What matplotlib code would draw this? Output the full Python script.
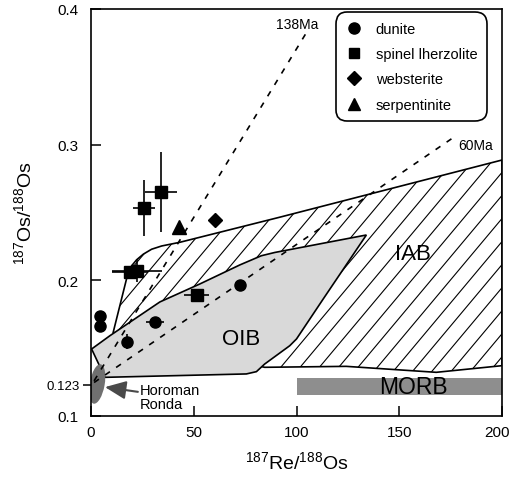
import numpy as np
import matplotlib
matplotlib.use("Agg")
import matplotlib.pyplot as plt
from matplotlib.patches import Polygon, Rectangle, Ellipse
from matplotlib.collections import LineCollection
from matplotlib.lines import Line2D
from matplotlib.transforms import ScaledTranslation

plt.rcParams['font.family'] = ['Liberation Sans', 'DejaVu Sans']
plt.rcParams['mathtext.fontset'] = 'custom'
plt.rcParams['mathtext.rm'] = 'Liberation Sans'
plt.rcParams['mathtext.it'] = 'Liberation Sans:italic'

# ---------------- data ----------------
dunite_x = [4.4, 4.4, 17.4, 31.1, 72.7]
dunite_y = [0.1733, 0.1660, 0.1546, 0.1689, 0.1966]
dunite_xerr = [0, 0, 0, 4.4, 0]
dunite_yerr = [0.003, 0.003, 0.0055, 0, 0]

lherz_x = [25.9, 34.0, 19.0, 22.5, 51.4]
lherz_y = [0.2532, 0.2652, 0.2058, 0.2070, 0.1893]
lherz_xerr = [5.4, 7.7, 8.6, 12.2, 6.2]
lherz_yerr = [0.021, 0.0295, 0, 0.0086, 0]

webst_x = [60.3]
webst_y = [0.2444]
serp_x = [42.8]
serp_y = [0.2390]

# IAB field outline (Re/Os, Os/Os)
iab_x = [10.8, 18.1, 20.0, 22.2, 25.5, 29.5, 34.4, 43.2, 91.8, 200, 200, 168, 124.2, 84.5]
iab_y = [0.1615, 0.2058, 0.2110, 0.2150, 0.2192, 0.2228, 0.2252, 0.2279, 0.2464,
         0.2886, 0.1369, 0.1320, 0.1364, 0.1357]

# OIB field outline
oib_x = [0.3, 9.2, 33.5, 53.0, 72.4, 82.9, 89.4, 134.0, 113.0, 100.0, 96.7, 84.5, 80.5, 75.6, 6.8]
oib_y = [0.1492, 0.1590, 0.1839, 0.1972, 0.2112, 0.2180, 0.2204, 0.2333, 0.1861, 0.1566,
         0.1516, 0.1381, 0.1325, 0.1308, 0.1283]

# MORB range
morb_x = [100, 200]
morb_y = [0.1153, 0.1276]

# Horoman / Ronda
horoman_xy = (3.0, 0.1234)

# Reference isochrons
iso_labels = ['138Ma', '60Ma']
iso_x = [[1.5, 105.4], [1.5, 177.7]]
iso_y = [[0.1257, 0.3840], [0.1245, 0.3066]]
iso_label_xy = [(100.5, 0.3889), (187.0, 0.2997)]

x_ticks = [0, 50, 100, 150, 200]
y_ticks = [0.1, 0.2, 0.3, 0.4]
y_ticklabels = ['0.1', '0.2', '0.3', '0.4']

# ---------------- figure ----------------
fig = plt.figure(figsize=(5.1, 4.85), dpi=100)
ax = fig.add_axes([91 / 510, (485 - 416.7) / 485, 411 / 510, 406.7 / 485])
ax.set_xlim(0, 200)
ax.set_ylim(0.1, 0.4)

# IAB field with hatching
iab_poly = Polygon(np.column_stack([iab_x, iab_y]), closed=True, facecolor='white',
                   edgecolor='none', zorder=1)
ax.add_patch(iab_poly)
slope = np.tan(np.deg2rad(50)) * (2.058 / 1355.6)
offsets = np.arange(-200, 260, 9.4)
segs = [[(c, 0.1), (c + 0.3 / slope, 0.4)] for c in offsets]
hatch = LineCollection(segs, colors='black', linewidths=0.8, zorder=1.1)
ax.add_collection(hatch)
hatch.set_clip_path(iab_poly)
ax.add_patch(Polygon(np.column_stack([iab_x, iab_y]), closed=True, facecolor='none',
                     edgecolor='black', linewidth=1.2, zorder=1.2))

# OIB field
ax.add_patch(Polygon(np.column_stack([oib_x, oib_y]), closed=True, facecolor='#d9d9d9',
                     edgecolor='black', linewidth=1.2, zorder=2))

# MORB bar
ax.add_patch(Rectangle((morb_x[0], morb_y[0]), morb_x[1] - morb_x[0], morb_y[1] - morb_y[0],
                       facecolor='#8e8e8e', edgecolor='none', zorder=2))

# Horoman / Ronda blob
blob_tr = fig.dpi_scale_trans + ScaledTranslation(horoman_xy[0], horoman_xy[1], ax.transData)
ax.add_patch(Ellipse((0, 0), 0.15, 0.40, angle=-10, transform=blob_tr,
                     facecolor='#707070', edgecolor='none', zorder=2.5))

# Isochrons
for xs, ys, lab, (lx, ly) in zip(iso_x, iso_y, iso_labels, iso_label_xy):
    ax.plot(xs, ys, color='black', lw=1.2, linestyle=(0, (3.5, 4.5)), zorder=3)
    ax.text(lx, ly, lab, fontsize=10, ha='center', va='center', zorder=5)

# Data
eb = dict(fmt='none', ecolor='black', elinewidth=1.2, capsize=0, zorder=4)
ax.errorbar(dunite_x, dunite_y, xerr=dunite_xerr, yerr=dunite_yerr, **eb)
ax.errorbar(lherz_x, lherz_y, xerr=lherz_xerr, yerr=lherz_yerr, **eb)
ax.plot(dunite_x, dunite_y, 'o', color='black', ms=8, zorder=5, linestyle='none')
ax.plot(lherz_x, lherz_y, 's', color='black', ms=8, zorder=5, linestyle='none')
ax.plot(webst_x, webst_y, 'D', color='black', ms=7.5, zorder=5, linestyle='none')
ax.plot(serp_x, serp_y, '^', color='black', ms=10, zorder=5, linestyle='none')

# Field labels
ax.text(156.6, 0.2193, 'IAB', fontsize=16, ha='center', va='center', zorder=5)
ax.text(73.0, 0.1571, 'OIB', fontsize=16, ha='center', va='center', zorder=5)
ax.text(156.8, 0.1214, 'MORB', fontsize=16.5, ha='center', va='center', zorder=5)
ax.annotate('', xy=(6.8, 0.1211), xytext=(22.8, 0.1176),
            arrowprops=dict(arrowstyle='-|>,head_length=0.8,head_width=0.35',
                            mutation_scale=16, color='#4a4a4a', lw=1.5,
                            shrinkA=0, shrinkB=0), zorder=5)
ax.text(23.8, 0.1138, 'Horoman\nRonda', fontsize=10.5, ha='left', va='center',
        linespacing=0.95, zorder=5)

# Legend
handles = [Line2D([], [], marker='o', color='black', ms=8, linestyle='none'),
           Line2D([], [], marker='s', color='black', ms=7.5, linestyle='none'),
           Line2D([], [], marker='D', color='black', ms=7.5, linestyle='none'),
           Line2D([], [], marker='^', color='black', ms=9, linestyle='none')]
leg = ax.legend(handles, ['dunite', 'spinel lherzolite', 'websterite', 'serpentinite'],
                loc='upper right', bbox_to_anchor=(0.963, 0.992), borderaxespad=0,
                fontsize=10.5, labelspacing=0.78, handletextpad=0.9, handlelength=1.2,
                borderpad=0.65, fancybox=True, framealpha=1, edgecolor='black')
leg.get_frame().set_linewidth(1.2)
leg.get_frame().set_boxstyle('round,pad=0,rounding_size=0.8')
leg.set_zorder(6)

# Axes styling
for sp in ax.spines.values():
    sp.set_linewidth(1.2)
ax.set_xticks(x_ticks)
ax.set_xticklabels([str(t) for t in x_ticks])
ax.set_yticks(y_ticks)
ax.set_yticklabels(y_ticklabels)
ax.tick_params(axis='both', which='major', direction='in', length=7, width=1.1,
               labelsize=11)
ax.tick_params(axis='x', which='major', pad=7)
ax.tick_params(axis='y', which='major', pad=9)
ax.set_yticks([0.123], minor=True)
ax.set_yticklabels(['0.123'], minor=True)
ax.tick_params(axis='y', which='minor', direction='inout', length=12, width=1.1,
               labelsize=9.5, pad=2)
ax.set_xlabel(r'$^{\mathrm{187}}$Re/$^{\mathrm{188}}$Os', fontsize=14, labelpad=8)
ax.set_ylabel(r'$^{\mathrm{187}}$Os/$^{\mathrm{188}}$Os', fontsize=14, labelpad=8)

# keep the last x tick label inside the figure
fig.canvas.draw()
last = ax.get_xticklabels()[-1]
last.set_horizontalalignment('right')
last.set_transform(last.get_transform() + ScaledTranslation(0.08, 0, fig.dpi_scale_trans))

fig.savefig('out.png', dpi=100)
